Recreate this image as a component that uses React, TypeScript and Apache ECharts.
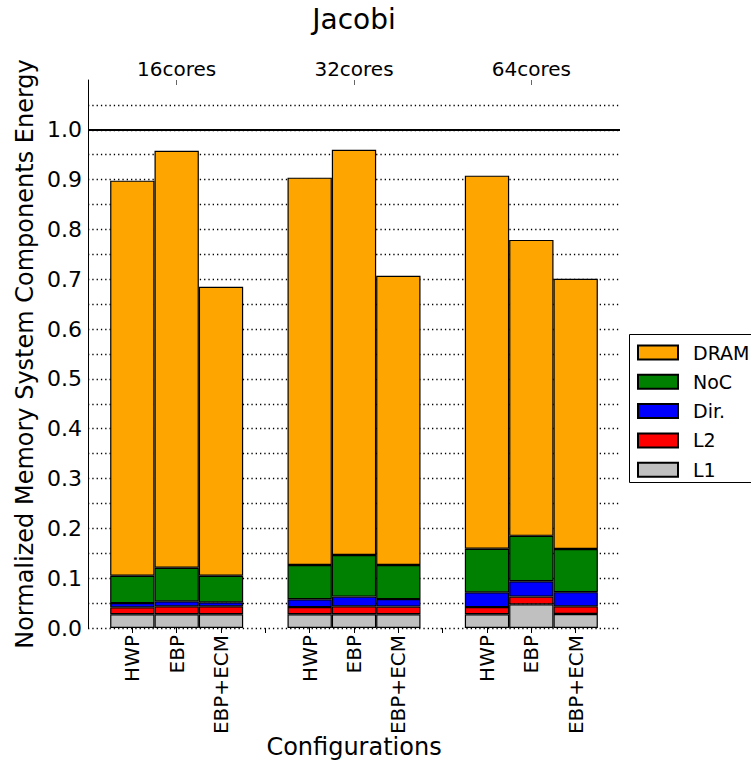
import React, { useEffect, useRef } from "react";
import * as echarts from "echarts";

const groups = ["16cores", "32cores", "64cores"];
const configs = ["HWP", "EBP", "EBP+ECM"];
// component energies, per bar: [16cores HWP, EBP, EBP+ECM, 32cores ..., 64cores ...]
const l1 = [0.0275, 0.0275, 0.0275, 0.0275, 0.0275, 0.0275, 0.0275, 0.0475, 0.028];
const l2 = [0.014, 0.016, 0.016, 0.0145, 0.016, 0.0155, 0.0145, 0.0155, 0.0155];
const dir = [0.0085, 0.01, 0.008, 0.0156, 0.0195, 0.015, 0.0296, 0.0307, 0.0285];
const noc = [0.055, 0.0675, 0.0535, 0.0689, 0.0836, 0.0685, 0.0874, 0.0913, 0.0866];
const dram = [0.793, 0.837, 0.58, 0.7775, 0.8134, 0.5805, 0.749, 0.594, 0.5424];
const yTicks = [0, 0.1, 0.2, 0.3, 0.4, 0.5, 0.6, 0.7, 0.8, 0.9, 1.0];

const FONT = "DejaVu Sans";

// 13 slots: gap, 3 bars, gap, 3 bars, gap, 3 bars, gap
const slotIds: string[] = [];
const slotLabel: string[] = [];
const slotGroup: string[] = [];
const slotBar: number[] = [];
{
  let b = 0;
  for (let g = 0; g < groups.length; g++) {
    slotIds.push("gap" + g);
    slotLabel.push("");
    slotGroup.push("");
    slotBar.push(-1);
    for (let c = 0; c < configs.length; c++) {
      slotIds.push(groups[g] + "-" + configs[c]);
      slotLabel.push(configs[c]);
      slotGroup.push(c === 1 ? groups[g] : "");
      slotBar.push(b++);
    }
  }
  slotIds.push("gapEnd");
  slotLabel.push("");
  slotGroup.push("");
  slotBar.push(-1);
}

const spread = (arr: number[]) => slotBar.map((i) => (i < 0 ? "-" : arr[i]));

export default function App() {
  const ref = useRef<HTMLDivElement>(null);
  useEffect(() => {
    if (!ref.current) return;
    const chart = echarts.init(ref.current, undefined, { renderer: "svg" });
    const mk = (name: string, data: number[], color: string, extra: any = {}) => ({
      name,
      type: "bar",
      stack: "total",
      xAxisIndex: 0,
      yAxisIndex: 0,
      barWidth: "100%",
      data: spread(data),
      itemStyle: { color, borderColor: "#000", borderWidth: 1.2 },
      ...extra,
    });
    chart.setOption({
      animation: false,
      textStyle: { fontFamily: FONT },
      grid: { left: 88, top: 80, width: 532, height: 548, containLabel: false, outerBoundsMode: "none" },
      graphic: [
        {
          type: "text",
          x: 354,
          y: 5,
          style: { text: "Jacobi", fontSize: 28, fontFamily: FONT, fill: "#000", textAlign: "center", textVerticalAlign: "top" },
        },
        {
          type: "rect",
          shape: { x: 629.5, y: 334.5, width: 160, height: 148 },
          style: { fill: "#fff", stroke: "#000", lineWidth: 1 },
          z: 5,
        },
      ],
      legend: {
        orient: "vertical",
        left: 637,
        top: 343,
        padding: 0,
        itemWidth: 40,
        itemHeight: 14,
        itemGap: 10.3,
        icon: "rect",
        z: 10,
        data: ["DRAM", "NoC", "Dir.", "L2", "L1"],
        formatter: (name: string) => "{n|" + name + "}",
        textStyle: {
          fontSize: 19,
          fontFamily: FONT,
          color: "#000",
          rich: { n: { fontSize: 19, fontFamily: FONT, color: "#000", padding: [0, 0, 0, 10] } },
        },
      },
      xAxis: [
        {
          type: "category",
          data: slotIds,
          boundaryGap: false,
          position: "bottom",
          axisLine: { show: false },
          axisTick: { show: true, length: 5, interval: (i: number) => i > 0 && i < slotIds.length - 1, lineStyle: { color: "#000" } },
          axisLabel: {
            interval: 0,
            rotate: 90,
            margin: 7,
            fontSize: 20,
            fontFamily: FONT,
            color: "#000",
            formatter: (_v: string, i: number) => slotLabel[i],
          },
          name: "Configurations",
          nameLocation: "middle",
          nameGap: 107,
          nameMoveOverlap: false,
          nameTextStyle: { fontSize: 24, fontFamily: FONT, color: "#000", verticalAlign: "top" },
        },
        {
          type: "category",
          data: slotIds,
          boundaryGap: false,
          position: "top",
          axisLine: { show: false },
          axisTick: { show: true, inside: true, length: 5, interval: (i: number) => slotGroup[i] !== "", lineStyle: { color: "#666" } },
          axisLabel: {
            interval: (i: number) => slotGroup[i] !== "",
            margin: 1,
            fontSize: 20,
            fontFamily: FONT,
            color: "#000",
            formatter: (_v: string, i: number) => slotGroup[i],
          },
        },
      ],
      yAxis: {
        type: "value",
        min: 0,
        max: 1.1,
        interval: 0.05,
        axisLine: { show: true, lineStyle: { color: "#000", width: 1 } },
        axisTick: { show: false },
        axisLabel: {
          margin: 6,
          fontSize: 22,
          fontFamily: FONT,
          color: "#000",
          formatter: (v: number) => {
            const t = yTicks.find((x) => Math.abs(x - v) < 1e-6);
            return t === undefined ? "" : t.toFixed(1);
          },
        },
        splitLine: {
          show: true,
          showMaxLine: false,
          lineStyle: { color: "#000", width: 1.3, type: [1.3, 3] },
        },
        name: "Normalized Memory System Components Energy",
        nameLocation: "middle",
        nameGap: 51,
        nameMoveOverlap: false,
        nameTextStyle: { fontSize: 24, fontFamily: FONT, color: "#000" },
      },
      series: [
        mk("L1", l1, "#C0C0C0", {
          markLine: {
            silent: true,
            symbol: "none",
            label: { show: false },
            lineStyle: { color: "#000", width: 2, type: "solid" },
            data: [{ yAxis: 1.0 }],
          },
        }),
        mk("L2", l2, "#FF0000"),
        mk("Dir.", dir, "#0000FF"),
        mk("NoC", noc, "#008000"),
        mk("DRAM", dram, "#FFA500"),
      ],
    });
    return () => chart.dispose();
  }, []);
  return <div ref={ref} style={{ width: 751, height: 762, position: "absolute", left: 0, top: 0 }} />;
}
